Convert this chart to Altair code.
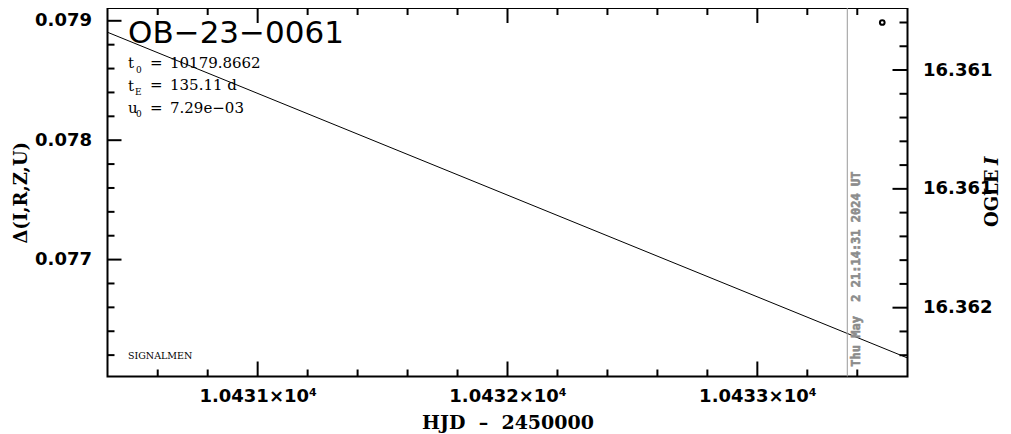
import altair as alt
import pandas as pd

# ---------------- data ----------------
hjd_model = [10430.399, 10433.601]
delta_model = [0.078904, 0.076176]

ogle_hjd = [10433.50]
ogle_mag = [16.3603]

now_hjd = [10433.36]
now_text = ["Thu May\u00a0 2 21:14:31 2024 UT"]

x_domain = [10430.399, 10433.601]
y_left_domain = [0.0760209, 0.0791072]
y_right_domain = [16.360239, 16.3617896]

x_major = [10431, 10432, 10433]
x_minor = [10430.6, 10430.8, 10431.2, 10431.4, 10431.6, 10431.8,
           10432.2, 10432.4, 10432.6, 10432.8, 10433.2, 10433.4]
yl_major = [0.077, 0.078, 0.079]
yl_minor = [0.0762, 0.0764, 0.0766, 0.0768, 0.0772, 0.0774, 0.0776, 0.0778,
            0.0782, 0.0784, 0.0786, 0.0788]
yr_major = [16.3605, 16.361, 16.3615]
yr_labels = ["16.361", "16.361", "16.362"]
yr_minor = [16.3603, 16.3604, 16.3606, 16.3607, 16.3608, 16.3609,
            16.3611, 16.3612, 16.3613, 16.3614, 16.3616, 16.3617]

event_name = "OB\u221223\u22120061"
t0_value = "10179.8662"
tE_value = "135.11 d"
u0_value = "7.29e\u221203"
credit = "SIGNALMEN"
x_title = "HJD\u00a0 \u2013\u00a0 2450000"
y_title = "\u0394(I,R,Z,U)"

# ---------------- chart ----------------
W, H = 800, 368.5
SANS = "DejaVu Sans"
SERIF = "DejaVu Serif"

xs = alt.Scale(domain=x_domain, nice=False, zero=False)
yls = alt.Scale(domain=y_left_domain, nice=False, zero=False)
yrs = alt.Scale(domain=y_right_domain, nice=False, zero=False, reverse=True)

df_line = pd.DataFrame({"hjd": hjd_model, "delta": delta_model})
line = alt.Chart(df_line).mark_line(color="black", strokeWidth=1).encode(
    x=alt.X("hjd:Q", scale=xs, axis=alt.Axis(
        values=x_major, ticks=False, domain=False, grid=False,
        labelExpr="format(datum.value/10000, '.4f') + '\u00d710\u2074'",
        labelPadding=10.5, title=x_title, titlePadding=8,
        titleFont=SERIF, titleFontSize=19, titleFontWeight="bold")),
    y=alt.Y("delta:Q", scale=yls, axis=alt.Axis(
        values=yl_major, format=".3f", ticks=False, domain=False, grid=False,
        labelPadding=16, title=y_title, titlePadding=4,
        titleFont=SERIF, titleFontSize=18, titleFontWeight="bold")),
)


def xticks(vals, length, top):
    return alt.Chart(pd.DataFrame({"x": vals})).mark_rule(color="black", strokeWidth=2).encode(
        x=alt.X("x:Q", scale=xs, axis=None),
        y=alt.value(0 if top else H),
        y2=alt.value(length if top else H - length),
    )


def ylticks(vals, length):
    return alt.Chart(pd.DataFrame({"y": vals})).mark_rule(color="black", strokeWidth=2).encode(
        y=alt.Y("y:Q", scale=yls, axis=None),
        x=alt.value(0), x2=alt.value(length),
    )


def yrticks(vals, length):
    return alt.Chart(pd.DataFrame({"y": vals})).mark_rule(color="black", strokeWidth=2).encode(
        y=alt.Y("y:Q", scale=yrs, axis=None),
        x=alt.value(W), x2=alt.value(W - length),
    )


def txt(s, x, y, size, font=SERIF, weight="normal", style="normal", color="black",
        angle=0, baseline="alphabetic"):
    return alt.Chart(pd.DataFrame({"s": [s]})).mark_text(
        align="left", baseline=baseline, font=font, fontSize=size, fontWeight=weight,
        fontStyle=style, color=color, angle=angle,
    ).encode(x=alt.value(x), y=alt.value(y), text="s:N")


df_now = pd.DataFrame({"hjd": now_hjd, "label": now_text})
now_rule = alt.Chart(df_now).mark_rule(color="#9a9a9a", strokeWidth=1).encode(
    x=alt.X("hjd:Q", scale=xs, axis=None))
now_label = alt.Chart(df_now).mark_text(
    align="left", baseline="middle", angle=270, dy=9, font="DejaVu Sans Mono",
    fontWeight="bold", fontSize=12, color="#8c8c8c", stroke="#8c8c8c", strokeWidth=0.6,
).encode(x=alt.X("hjd:Q", scale=xs, axis=None), y=alt.value(358.7), text="label:N")

annotations = [
    txt(event_name, 20.5, 35.3, 31, font=SANS),
    txt("t", 20.5, 60, 15), txt("0", 28.5, 64.7, 9), txt("=", 42.5, 59.5, 15), txt(t0_value, 62.5, 59.5, 15),
    txt("t", 20.5, 82.5, 15), txt("E", 27.5, 87, 9), txt("=", 42.5, 82, 15), txt(tE_value, 62.5, 82, 15),
    txt("u", 20.5, 104.7, 15), txt("0", 28.5, 108.7, 9), txt("=", 42.5, 104.7, 15), txt(u0_value, 62.5, 104.7, 15),
    txt(credit, 20.5, 351, 9.5),
    txt("OGLE", 885, 219, 18, weight="bold", angle=270, baseline="middle"),
    txt("I", 885, 157, 18, weight="bold", style="italic", angle=270, baseline="middle"),
]

left = alt.layer(
    line,
    xticks(x_major, 15, False), xticks(x_minor, 7, False),
    xticks(x_major, 15, True), xticks(x_minor, 7, True),
    ylticks(yl_major, 14), ylticks(yl_minor, 7),
    now_rule, now_label,
    *annotations,
).resolve_axis(x="independent", y="independent")

yr_expr = ("datum.value < %f ? '%s' : datum.value < %f ? '%s' : '%s'" % (
    (yr_major[0] + yr_major[1]) / 2, yr_labels[0],
    (yr_major[1] + yr_major[2]) / 2, yr_labels[1], yr_labels[2]))

df_ogle = pd.DataFrame({"hjd": ogle_hjd, "mag": ogle_mag})
ogle = alt.Chart(df_ogle).mark_point(filled=False, color="black", strokeWidth=2, size=22, opacity=1).encode(
    x=alt.X("hjd:Q", scale=xs, axis=None),
    y=alt.Y("mag:Q", scale=yrs, axis=alt.Axis(
        orient="right", values=yr_major, labelExpr=yr_expr, ticks=False, domain=False,
        grid=False, labelPadding=15, title=None)),
)

right = alt.layer(ogle, yrticks(yr_major, 15), yrticks(yr_minor, 8)).resolve_axis(
    x="independent", y="independent")

chart = alt.layer(left, right).resolve_scale(y="independent").resolve_axis(
    x="independent", y="independent").properties(
    width=W, height=H,
    autosize=alt.AutoSizeParams(type="none"),
    padding={"left": 99.5, "top": 0, "right": 95.5, "bottom": 57.5},
).configure_view(stroke="black", strokeWidth=2).configure_axis(
    labelFont=SANS, labelFontSize=18, labelFontWeight="bold", labelColor="black",
    titleColor="black",
)

chart.save("out.html", embed_options={"renderer": "svg", "actions": False})
